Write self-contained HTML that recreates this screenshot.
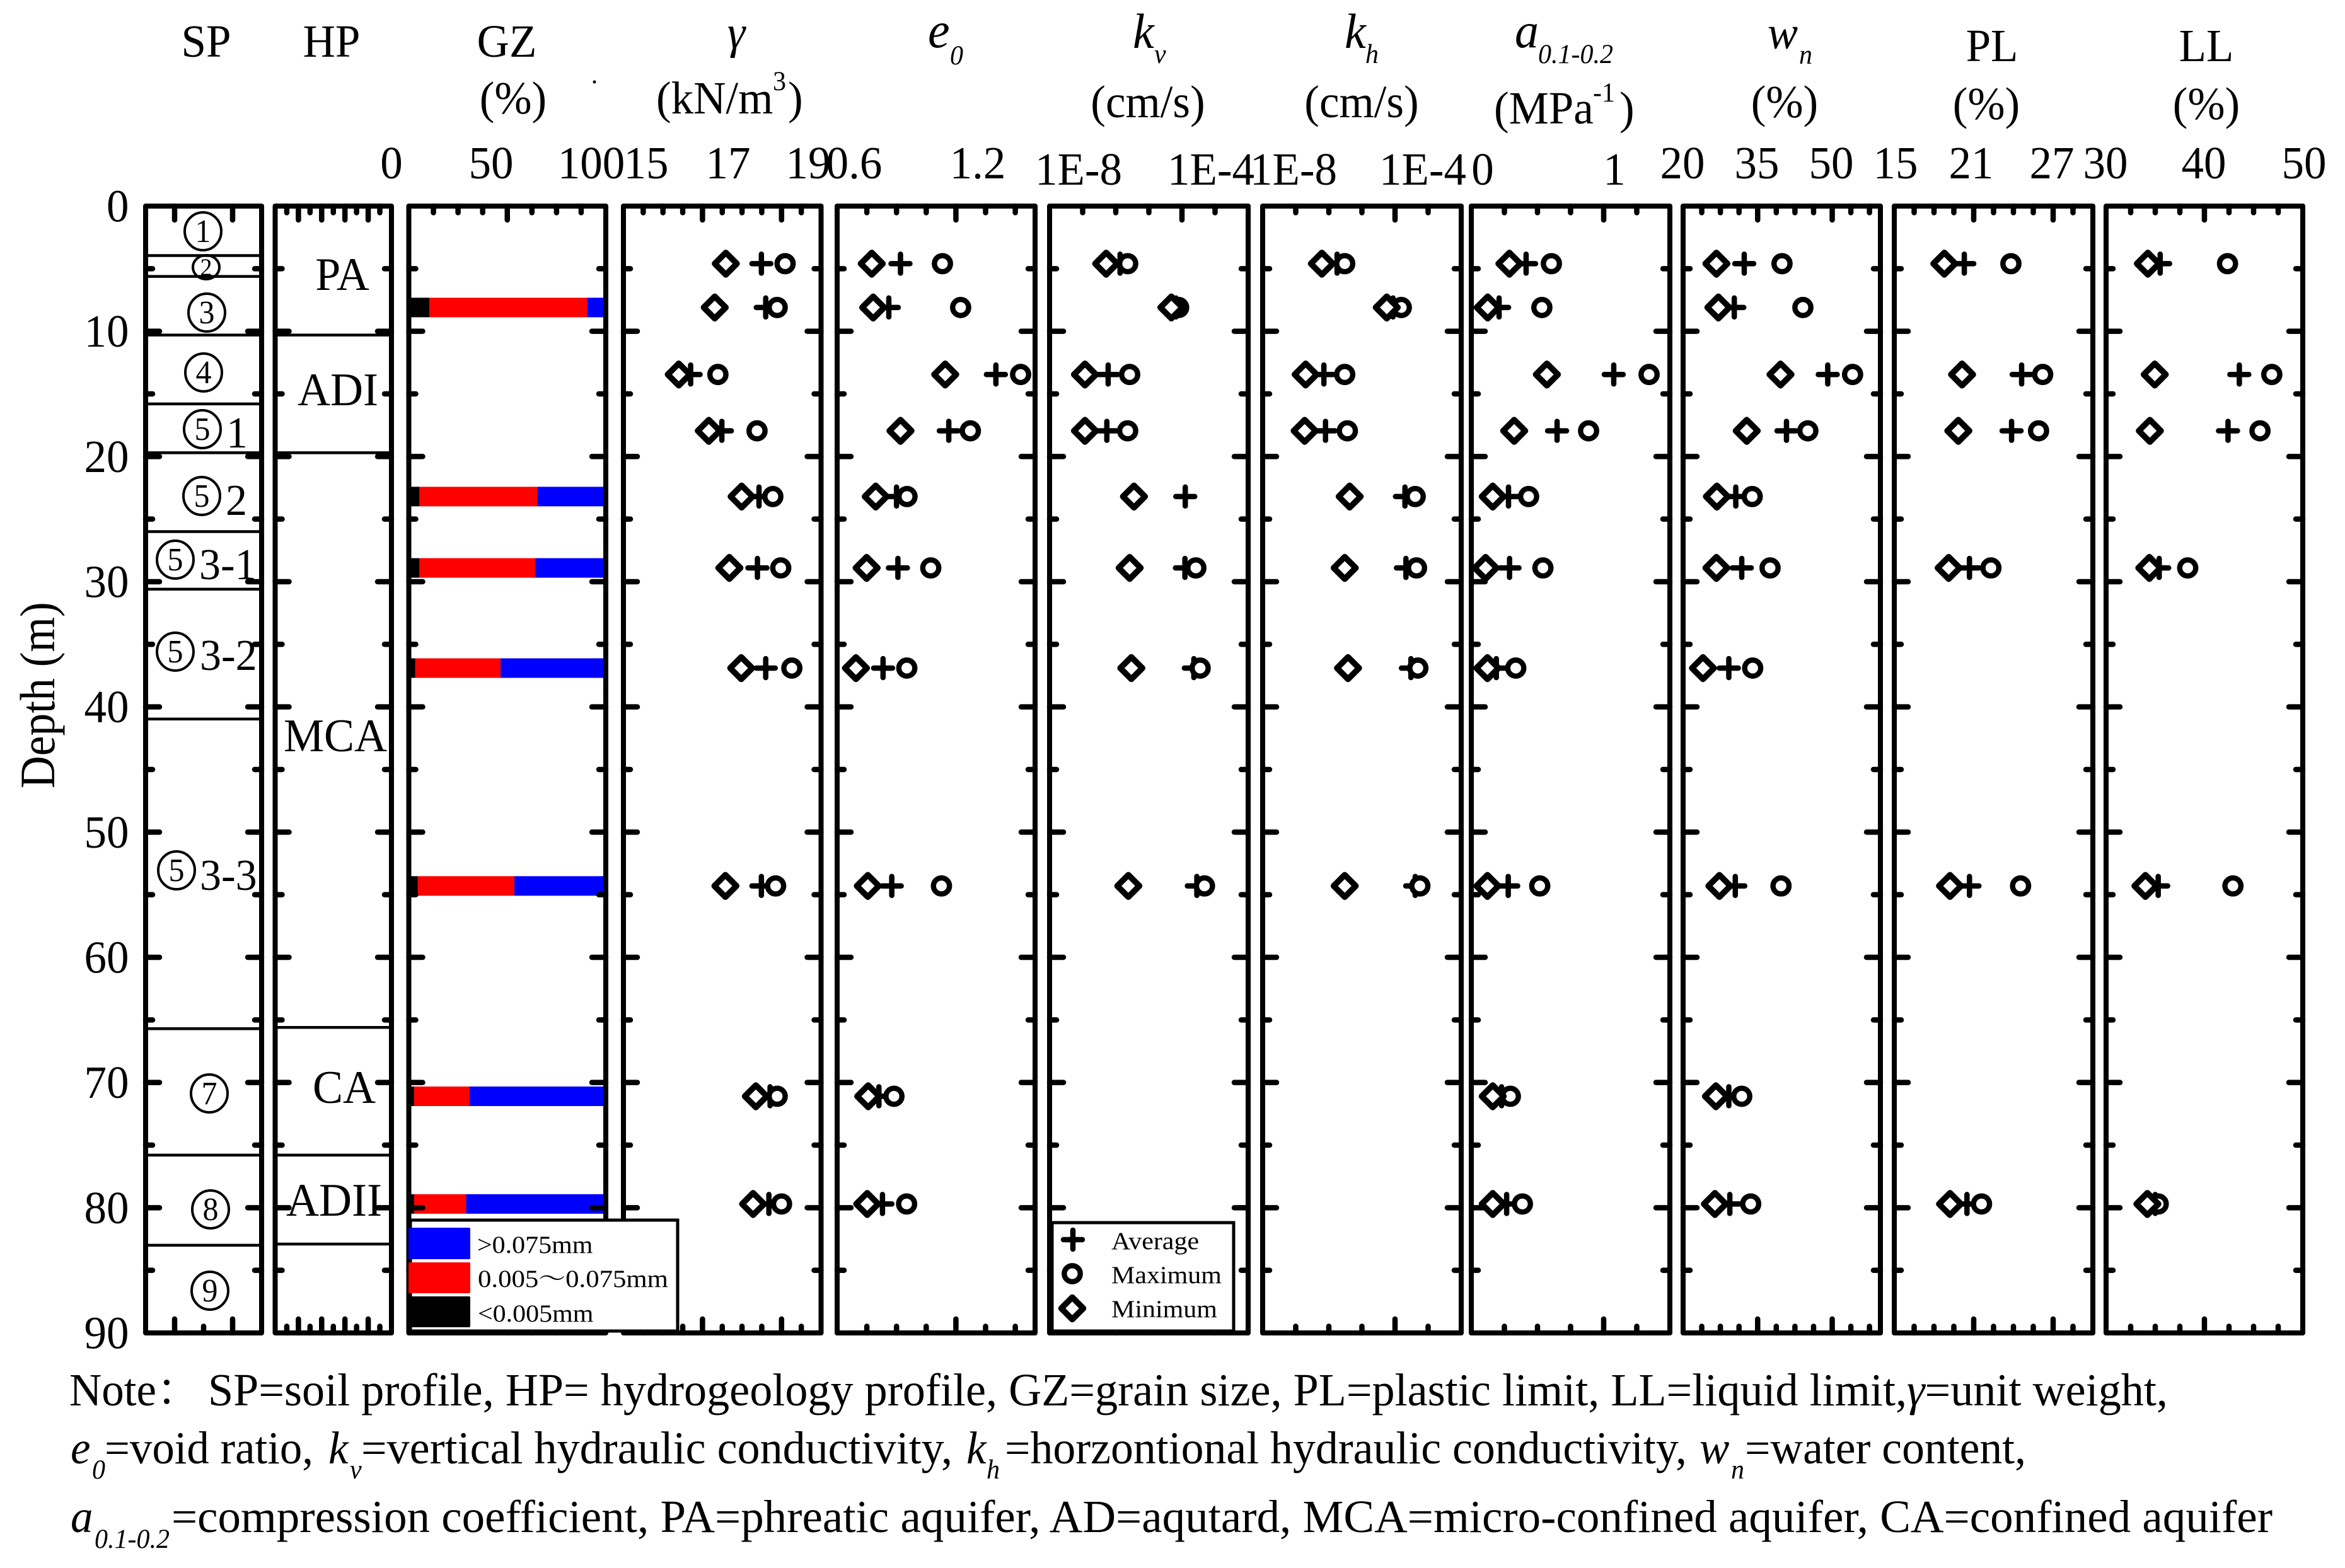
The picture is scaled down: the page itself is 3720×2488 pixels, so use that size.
<!DOCTYPE html>
<html lang="en">
<head>
<meta charset="utf-8">
<title>Soil and hydrogeology profile with depth</title>
<style>
html,body{margin:0;padding:0;background:#fff;}
svg{display:block;}
text{font-family:"Liberation Serif","Noto Serif CJK SC",serif;fill:#000;font-size:71px;}
.it{font-style:italic;}
.sub{font-style:italic;font-size:42px;}
.leg{font-size:42px;}
.note{font-size:71px;}
.nsub{font-style:italic;font-size:42px;}
.cd{font-size:50px;}
.sfx{font-size:68px;}
.mid{text-anchor:middle;}
</style>
</head>
<body>
<svg id="chart" xmlns="http://www.w3.org/2000/svg" width="3720" height="2488" viewBox="0 0 3720 2488">
<rect x="0" y="0" width="3720" height="2488" fill="#fff"/>
<g id="bars"></g>
<g id="frames"></g>
<g id="marks"></g>

<g fill="none" stroke="#000" stroke-width="4">
<ellipse cx="322" cy="367" rx="29" ry="30"/>
<ellipse cx="327" cy="424" rx="21" ry="19"/>
<ellipse cx="328" cy="496" rx="29" ry="30"/>
<ellipse cx="323" cy="591" rx="29" ry="30"/>
<ellipse cx="321" cy="681" rx="29" ry="30"/>
<ellipse cx="320" cy="787" rx="29" ry="30"/>
<ellipse cx="278" cy="888" rx="29" ry="30"/>
<ellipse cx="278" cy="1034" rx="29" ry="30"/>
<ellipse cx="280" cy="1381" rx="29" ry="30"/>
<ellipse cx="332" cy="1735" rx="29" ry="30"/>
<ellipse cx="334" cy="1919" rx="29" ry="30"/>
<ellipse cx="333" cy="2048" rx="29" ry="30"/>
</g>
<text class="cd mid" x="322" y="384">1</text>
<text class="mid" style="font-size:38px" x="327" y="437">2</text>
<text class="cd mid" x="328" y="513">3</text>
<text class="cd mid" x="323" y="608">4</text>
<text class="cd mid" x="321" y="698">5</text>
<text class="sfx" x="359" y="710">1</text>
<text class="cd mid" x="320" y="804">5</text>
<text class="sfx" x="358" y="817">2</text>
<text class="cd mid" x="278" y="905">5</text>
<text class="sfx" x="316" y="919">3-1</text>
<text class="cd mid" x="278" y="1051">5</text>
<text class="sfx" x="317" y="1063">3-2</text>
<text class="cd mid" x="280" y="1398">5</text>
<text class="sfx" x="317" y="1412">3-3</text>
<text class="cd mid" x="332" y="1752">7</text>
<text class="cd mid" x="334" y="1936">8</text>
<text class="cd mid" x="333" y="2065">9</text>

<text class="mid" style="font-size:72px" x="543" y="460">PA</text>
<text class="mid" style="font-size:72px" x="536" y="643">ADI</text>
<text class="mid" style="font-size:72px" x="532" y="1192">MCA</text>
<text class="mid" style="font-size:72px" x="546" y="1750">CA</text>
<text class="mid" style="font-size:72px" x="530" y="1929">ADII</text>

<text class="mid" x="327" y="90">SP</text>
<text class="mid" x="526" y="90">HP</text>
<text class="mid" x="804" y="90">GZ</text>
<text class="mid" x="814" y="180">(%)</text>
<circle cx="943" cy="130" r="2.5" fill="#000"/>
<text class="it mid" style="font-size:72px" x="1168" y="76">γ</text>
<text x="1041" y="180">(kN/m</text>
<text style="font-size:42px" x="1226" y="143">3</text>
<text x="1250" y="180">)</text>
<text class="it" style="font-size:78px" x="1472" y="75">e</text>
<text class="sub" x="1507" y="102">0</text>
<text class="it" style="font-size:76px" x="1797" y="76">k</text>
<text class="sub" x="1831" y="100">v</text>
<text class="mid" x="1821" y="186">(cm/s)</text>
<text class="it" style="font-size:76px" x="2133" y="76">k</text>
<text class="sub" x="2166" y="100">h</text>
<text class="mid" x="2160" y="186">(cm/s)</text>
<text class="it" style="font-size:76px" x="2403" y="75">a</text>
<text class="sub" x="2440" y="100">0.1-0.2</text>
<text x="2370" y="196">(MPa</text>
<text style="font-size:42px" x="2527" y="161">-1</text>
<text x="2569" y="196">)</text>
<text class="it" style="font-size:72px" x="2804" y="77">w</text>
<text class="sub" x="2854" y="101">n</text>
<text class="mid" x="2831" y="186">(%)</text>
<text class="mid" x="3160" y="97">PL</text>
<text class="mid" x="3151" y="189">(%)</text>
<text class="mid" x="3500" y="97">LL</text>
<text class="mid" x="3500" y="189">(%)</text>

<text class="mid" x="621" y="283">0</text>
<text class="mid" x="779" y="283">50</text>
<text class="mid" x="938" y="283">100</text>
<text class="mid" x="1025" y="283">15</text>
<text class="mid" x="1155" y="283">17</text>
<text class="mid" x="1282" y="283">19</text>
<text class="mid" x="1355" y="283">0.6</text>
<text class="mid" x="1551" y="283">1.2</text>
<text class="mid" x="1711" y="293">1E-8</text>
<text class="mid" x="1921" y="293">1E-4</text>
<text class="mid" x="2052" y="293">1E-8</text>
<text class="mid" x="2257" y="293">1E-4</text>
<text class="mid" x="2352" y="293">0</text>
<text class="mid" x="2561" y="293">1</text>
<text class="mid" x="2669" y="283">20</text>
<text class="mid" x="2787" y="283">35</text>
<text class="mid" x="2905" y="283">50</text>
<text class="mid" x="3007" y="283">15</text>
<text class="mid" x="3127" y="283">21</text>
<text class="mid" x="3255" y="283">27</text>
<text class="mid" x="3340" y="283">30</text>
<text class="mid" x="3496" y="283">40</text>
<text class="mid" x="3655" y="283">50</text>

<text class="norm" style="font-size:71.5px" transform="translate(86,1251) rotate(-90) scale(1,1.1)" x="0" y="0">Depth (m)</text>
<g id="ylabels"></g>

<g>
<rect x="651" y="1936" width="424" height="176" fill="#fff" stroke="#000" stroke-width="5"/>
<rect x="648" y="1948" width="98" height="50" rx="2" fill="#0000ff"/>
<rect x="648" y="2003" width="98" height="49" rx="2" fill="#ff0000"/>
<rect x="648" y="2057" width="98" height="49" rx="2" fill="#000000"/>
<text class="leg" x="757" y="1988">&gt;0.075mm</text>
<text class="leg" x="758" y="2042" textLength="302" lengthAdjust="spacingAndGlyphs">0.005～0.075mm</text>
<text class="leg" x="758" y="2097">&lt;0.005mm</text>
</g>
<g>
<rect x="1669" y="1940" width="288" height="172" fill="#fff" stroke="#000" stroke-width="5"/>
<g id="legendmarks"></g>
<text class="leg" x="1763" y="1982">Average</text>
<text class="leg" x="1763" y="2036">Maximum</text>
<text class="leg" x="1763" y="2090">Minimum</text>
</g>

<g>
<text class="note" x="110" y="2230">Note：</text>
<text class="note" x="330" y="2230" textLength="3109" lengthAdjust="spacingAndGlyphs">SP=soil profile, HP= hydrogeology profile, GZ=grain size, PL=plastic limit, LL=liquid limit,<tspan class="it">γ</tspan>=unit weight,</text>
<text class="note it" x="112" y="2322">e</text>
<text class="nsub" x="146" y="2346">0</text>
<text class="note" x="166" y="2322" textLength="331" lengthAdjust="spacingAndGlyphs">=void ratio,</text>
<text class="note it" x="521" y="2322">k</text>
<text class="nsub" x="555" y="2346">v</text>
<text class="note" x="573" y="2322" textLength="938" lengthAdjust="spacingAndGlyphs">=vertical hydraulic conductivity,</text>
<text class="note it" x="1533" y="2322">k</text>
<text class="nsub" x="1565" y="2346">h</text>
<text class="note" x="1594" y="2322" textLength="1082" lengthAdjust="spacingAndGlyphs">=horzontional hydraulic conductivity,</text>
<text class="note it" x="2696" y="2322">w</text>
<text class="nsub" x="2746" y="2346">n</text>
<text class="note" x="2768" y="2322" textLength="446" lengthAdjust="spacingAndGlyphs">=water content,</text>
<text class="note it" x="112" y="2431">a</text>
<text class="nsub" x="150" y="2456">0.1-0.2</text>
<text class="note" x="272" y="2431" textLength="3333" lengthAdjust="spacingAndGlyphs">=compression coefficient, PA=phreatic aquifer, AD=aqutard, MCA=micro-confined aquifer, CA=confined aquifer</text>
</g>
</svg>

<script>
const depthRows=[4.6,8.1,13.45,17.95,23.2,28.9,36.9,54.3,71.1,79.7];
const yTickValues=[0,10,20,30,40,50,60,70,80,90];
const spBoundaries=[3.95,5.62,10.3,15.8,19.7,26.0,30.6,40.97,65.7,75.8,83.0];
const hpBoundaries=[10.3,19.7,65.6,75.8,82.9];

const gzDepths=[8.1,23.2,28.9,36.9,54.3,71.1,79.7];
const gzClay=[10.5,5.4,5.4,3.2,4.6,2.7,2.7];
const gzSilt=[80,59.8,58.8,43.4,49,28,26.4];
const gzSand=[9.5,34.8,35.8,53.4,46.4,69.3,70.9];

const gammaMin=[17.59,17.31,16.40,17.16,17.99,17.68,17.98,17.58,18.35,18.28];
const gammaAvg=[18.49,18.60,16.70,17.49,18.43,18.39,18.60,18.49,18.71,18.68];
const gammaMax=[19.09,18.89,17.39,18.38,18.78,18.98,19.26,18.85,18.89,19.00];

const e0Min=[0.775,0.782,1.146,0.920,0.795,0.749,0.695,0.755,0.757,0.752];
const e0Avg=[0.920,0.861,1.402,1.164,0.900,0.907,0.832,0.876,0.811,0.829];
const e0Max=[1.132,1.224,1.527,1.273,0.953,1.073,0.952,1.127,0.887,0.951];

const kvLogMin=[-6.29,-4.32,-6.93,-6.93,-5.45,-5.58,-5.53,-5.62,null,null];
const kvLogAvg=[-5.87,-4.18,-6.23,-6.27,-3.90,-3.91,-3.64,-3.55,null,null];
const kvLogMax=[-5.64,-4.10,-5.58,-5.64,null,-3.58,-3.45,-3.32,null,null];

const khLogMin=[-6.21,-4.25,-6.70,-6.73,-5.37,-5.52,-5.42,-5.52,null,null];
const khLogAvg=[-5.75,-4.06,-6.15,-6.10,-3.70,-3.67,-3.52,-3.39,null,null];
const khLogMax=[-5.52,-3.81,-5.52,-5.44,-3.39,-3.35,-3.31,-3.25,null,null];

const aMin=[0.288,0.124,0.571,0.324,0.162,0.108,0.122,0.122,0.162,0.162];
const aAvg=[0.414,0.210,1.076,0.648,0.281,0.289,0.189,0.279,0.229,0.267];
const aMax=[0.605,0.533,1.343,0.886,0.433,0.541,0.336,0.517,0.295,0.386];

const wnMin=[26.7,27.1,39.6,32.8,26.8,26.7,24.0,27.3,26.6,26.4];
const wnAvg=[32.3,30.3,49.1,40.8,30.6,31.8,29.2,30.5,29.2,29.4];
const wnMax=[39.9,44.1,54.1,45.1,33.9,37.5,34.0,39.7,31.8,33.6];

const plMin=[18.78,null,20.12,19.84,null,19.11,null,19.21,null,19.21];
const plAvg=[20.29,null,24.62,23.86,null,20.68,null,20.68,null,20.49];
const plMax=[23.81,null,26.21,25.90,null,22.30,null,24.54,null,21.59];

const llMin=[34.25,null,34.95,34.45,null,34.4,null,34.0,null,34.2];
const llAvg=[35.5,null,43.55,42.4,null,35.4,null,35.3,null,35.0];
const llMax=[42.35,null,46.85,45.65,null,38.3,null,42.9,null,35.3];

const NS='http://www.w3.org/2000/svg';
const Y_TOP=327, Y_BOTTOM=2115, DEPTH_MAX=90;
const TICK_W=8.5, FRAME_W=8;
const yScale=d=>Y_TOP+d/DEPTH_MAX*(Y_BOTTOM-Y_TOP);
const xScale=(p,v)=>p.left+(v-p.domain[0])/(p.domain[1]-p.domain[0])*(p.right-p.left);

const panels=[
 {key:'sp',left:231,right:415,domain:[0,100],step:25,mod:2,rem:1,skipTop:[2]},
 {key:'hp',left:436.5,right:621,domain:[0,100],step:10,mod:2,rem:0},
 {key:'gz',left:648.5,right:961,domain:[0,100],step:12.5,mod:4,rem:0},
 {key:'gamma',left:989,right:1302.5,domain:[15,20],step:0.5,mod:4,rem:0,min:gammaMin,avg:gammaAvg,max:gammaMax},
 {key:'e0',left:1328,right:1642,domain:[0.6,1.6],step:0.15,mod:4,rem:0,min:e0Min,avg:e0Avg,max:e0Max},
 {key:'kv',left:1665,right:1980,domain:[-8,-2],step:1,mod:4,rem:0,min:kvLogMin,avg:kvLogAvg,max:kvLogMax},
 {key:'kh',left:2003,right:2318,domain:[-8,-2],step:1,mod:4,rem:0,min:khLogMin,avg:khLogAvg,max:khLogMax},
 {key:'a',left:2334,right:2649,domain:[0,1.5],step:0.25,mod:4,rem:0,min:aMin,avg:aAvg,max:aMax},
 {key:'wn',left:2670,right:2983,domain:[20,59.7],step:3.75,mod:4,rem:0,min:wnMin,avg:wnAvg,max:wnMax},
 {key:'pl',left:3005,right:3320,domain:[15,30],step:1.5,mod:4,rem:0,min:plMin,avg:plAvg,max:plMax},
 {key:'ll',left:3341,right:3653,domain:[30,50],step:2.5,mod:4,rem:0,min:llMin,avg:llAvg,max:llMax}
];

function mk(parent,tag,attrs){
  const el=document.createElementNS(NS,tag);
  for(const k in attrs){el.setAttribute(k,attrs[k]);}
  parent.appendChild(el);
  return el;
}
function tick(g,x1,y1,x2,y2,name){
  const el=mk(g,'line',{x1,y1,x2,y2,stroke:'#000','stroke-width':TICK_W,'stroke-linecap':'round'});
  
  
}
function plusMark(g,x,y,name){
  const el=mk(g,'path',{d:`M${x-15} ${y}H${x+15}M${x} ${y-15}V${y+15}`,stroke:'#000','stroke-width':8.5,'stroke-linecap':'round',fill:'none'});
  
  
}
function circleMark(g,x,y,name){
  const el=mk(g,'circle',{cx:x,cy:y,r:12.7,stroke:'#000','stroke-width':8.4,fill:'#fff'});
  
  
}
function diamondMark(g,x,y,name){
  const el=mk(g,'polygon',{points:`${x-17.5},${y} ${x},${y-17.5} ${x+17.5},${y} ${x},${y+17.5}`,stroke:'#000','stroke-width':9.5,fill:'#fff','stroke-linejoin':'round'});
  
  
}

const barsG=document.getElementById('bars');
const gzPanel=panels[2];
gzDepths.forEach((d,i)=>{
  const yc=yScale(d);
  const segs=[[gzClay[i],'#000000','clay'],[gzSilt[i],'#ff0000','silt'],[gzSand[i],'#0000ff','sand']];
  let acc=0;
  segs.forEach(s=>{
    const x0=xScale(gzPanel,acc), x1=xScale(gzPanel,acc+s[0]);
    const r=mk(barsG,'rect',{x:x0,y:yc-15.5,width:x1-x0,height:31,fill:s[1]});
    
    
    acc+=s[0];
  });
});

const framesG=document.getElementById('frames');
panels.forEach(p=>{
  const f=mk(framesG,'rect',{x:p.left,y:Y_TOP,width:p.right-p.left,height:Y_BOTTOM-Y_TOP,fill:'none',stroke:'#000','stroke-width':FRAME_W,'stroke-linejoin':'round'});
  
  
  const n=Math.floor((p.domain[1]-p.domain[0])/p.step+1e-6);
  for(let k=1;k<=n;k++){
    const x=xScale(p,p.domain[0]+k*p.step);
    if(x>p.right-6)continue;
    const len=(k%p.mod===p.rem)?22:10.5;
    if(!(p.skipTop&&p.skipTop.includes(k))){
      tick(framesG,x,Y_TOP,x,Y_TOP+len,p.key+'-top-tick');
    }
    tick(framesG,x,Y_BOTTOM,x,Y_BOTTOM-len,p.key+'-bottom-tick');
  }
  for(let d=5;d<DEPTH_MAX;d+=5){
    const y=yScale(d);
    const len=(d%10===0)?22:11;
    tick(framesG,p.left,y,p.left+len,y,p.key+'-left-tick');
    tick(framesG,p.right,y,p.right-len,y,p.key+'-right-tick');
  }
});
spBoundaries.forEach(d=>{
  const l=mk(framesG,'line',{x1:panels[0].left,x2:panels[0].right,y1:yScale(d),y2:yScale(d),stroke:'#000','stroke-width':4.5});
  
  
});
hpBoundaries.forEach(d=>{
  const l=mk(framesG,'line',{x1:panels[1].left,x2:panels[1].right,y1:yScale(d),y2:yScale(d),stroke:'#000','stroke-width':4.5});
  
  
});

const marksG=document.getElementById('marks');
panels.filter(p=>p.min).forEach(p=>{
  depthRows.forEach((d,i)=>{
    const y=yScale(d);
    if(p.avg[i]!==null){plusMark(marksG,xScale(p,p.avg[i]),y,p.key+'-average-point');}
    if(p.max[i]!==null){circleMark(marksG,xScale(p,p.max[i]),y,p.key+'-maximum-point');}
    if(p.min[i]!==null){diamondMark(marksG,xScale(p,p.min[i]),y,p.key+'-minimum-point');}
  });
});

const lm=document.getElementById('legendmarks');
plusMark(lm,1702,1967,'legend-average-symbol');
circleMark(lm,1701,2021,'legend-maximum-symbol');
diamondMark(lm,1701,2076,'legend-minimum-symbol');

const yl=document.getElementById('ylabels');
yTickValues.forEach(v=>{
  const t=mk(yl,'text',{x:204.5,y:yScale(v)+24.5,'text-anchor':'end'});
  t.textContent=String(v);
  
  
});

document.querySelectorAll('#chart text:not(.norm)').forEach(t=>{
  const y=parseFloat(t.getAttribute('y'));
  const s=t.classList.contains('leg')?0.92:1.03;
  t.setAttribute('transform',`translate(0,${y}) scale(1,${s}) translate(0,${-y})`);
});
</script>
</body>
</html>
